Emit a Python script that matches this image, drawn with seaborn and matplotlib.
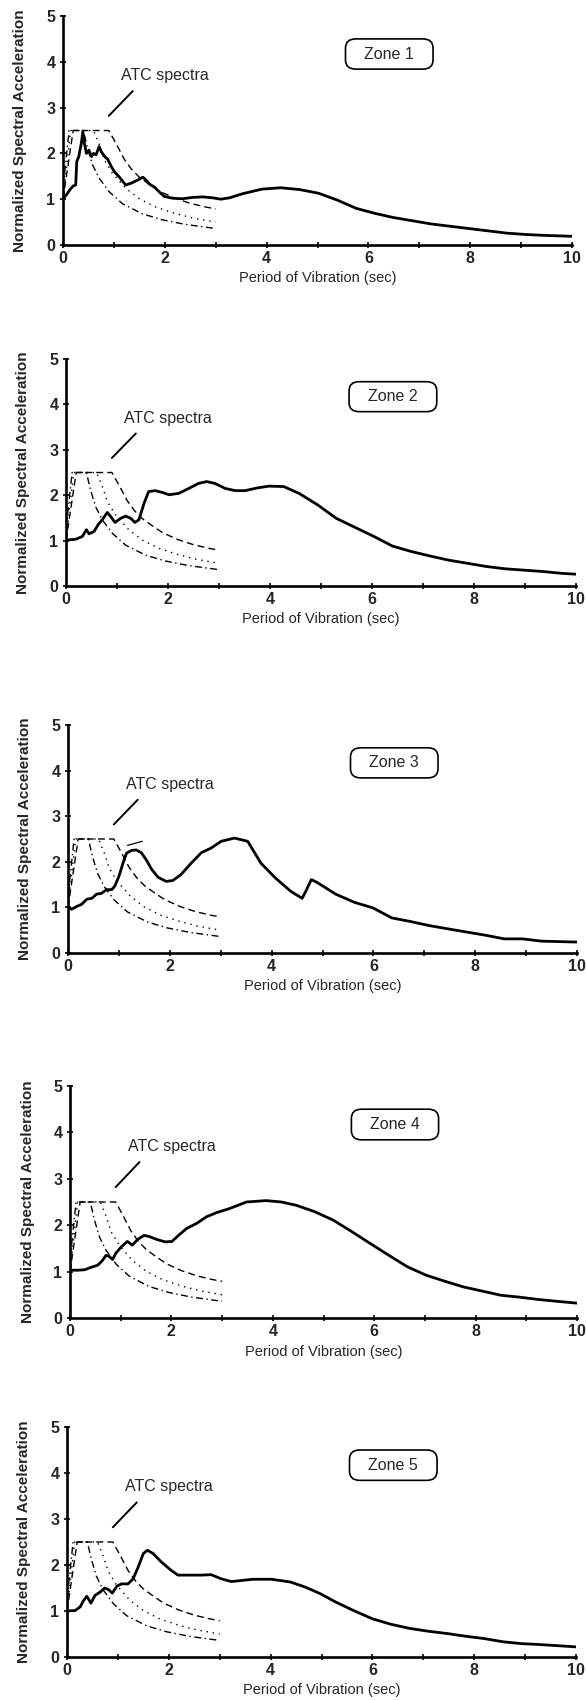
import matplotlib
matplotlib.use("Agg")
import matplotlib.pyplot as plt
from matplotlib.patches import FancyBboxPatch
import seaborn as sns

sns.set_style("ticks")
plt.rcParams['font.family'] = ['Liberation Sans', 'DejaVu Sans']

# ---------------- data ----------------
zones = ["Zone 1", "Zone 2", "Zone 3", "Zone 4", "Zone 5"]
x_label = "Period of Vibration (sec)"
y_label = "Normalized Spectral Acceleration"
atc_label = "ATC spectra"
x_ticks = [0, 2, 4, 6, 8, 10]
y_ticks = [0, 1, 2, 3, 4, 5]

# ATC normalized design spectra (shared by all panels)
atc_dash_x = [0, 0.2, 0.9, 1.05, 1.2, 1.35, 1.5, 1.7, 1.9, 2.2, 2.5, 2.8, 3.0]
atc_dash_y = [1.0, 2.5, 2.5, 2.2, 1.88, 1.65, 1.48, 1.32, 1.17, 1.02, 0.91, 0.83, 0.79]
atc_dot_x = [0, 0.15, 0.6, 0.71, 0.81, 0.97, 1.23, 1.5, 1.82, 2.2, 2.55, 2.8, 3.0]
atc_dot_y = [1.0, 2.5, 2.5, 2.2, 1.86, 1.57, 1.24, 1.01, 0.83, 0.69, 0.59, 0.54, 0.5]
atc_dashdot_x = [0, 0.12, 0.4, 0.48, 0.58, 0.71, 0.91, 1.17, 1.56, 1.95, 2.4, 2.8, 3.0]
atc_dashdot_y = [1.25, 2.5, 2.5, 2.12, 1.75, 1.46, 1.16, 0.9, 0.68, 0.55, 0.45, 0.39, 0.36]

# Zone 1 spectrum
z1_x = [0, 0.065, 0.13, 0.2, 0.25, 0.27, 0.31, 0.36, 0.39, 0.42, 0.46, 0.51, 0.56, 0.6,
        0.65, 0.71, 0.75, 0.82, 0.88, 0.95, 1.01, 1.11, 1.23, 1.34, 1.47, 1.57, 1.63,
        1.7, 1.8, 1.9, 1.99, 2.16, 2.35, 2.55, 2.75, 2.94, 3.1, 3.27, 3.53, 3.91, 4.28,
        4.65, 5.02, 5.39, 5.76, 6.13, 6.49, 6.86, 7.23, 7.6, 7.97, 8.34, 8.71, 9.08,
        9.45, 10.0]
z1_y = [1.02, 1.09, 1.2, 1.29, 1.31, 1.82, 1.93, 2.22, 2.47, 2.22, 2.0, 2.07, 1.93, 2.0,
        1.97, 2.15, 2.04, 1.93, 1.87, 1.71, 1.6, 1.48, 1.31, 1.35, 1.42, 1.48, 1.42,
        1.33, 1.26, 1.15, 1.06, 1.02, 1.01, 1.04, 1.05, 1.03, 1.0, 1.03, 1.12, 1.22, 1.25,
        1.21, 1.13, 0.98, 0.8, 0.69, 0.6, 0.53, 0.46, 0.41, 0.36, 0.31, 0.26, 0.23,
        0.21, 0.19]

# Zone 2 spectrum
z2_x = [0, 0.19, 0.32, 0.4, 0.45, 0.55, 0.63, 0.71, 0.81, 0.87, 0.96, 1.07, 1.17, 1.27,
        1.35, 1.43, 1.53, 1.62, 1.75, 1.89, 2.02, 2.21, 2.41, 2.6, 2.76, 2.92, 3.12,
        3.32, 3.51, 3.75, 3.98, 4.27, 4.57, 4.93, 5.3, 5.67, 6.04, 6.4, 6.77, 7.14, 7.5,
        7.87, 8.24, 8.6, 8.97, 9.34, 9.71, 10.0]
z2_y = [1.01, 1.03, 1.09, 1.24, 1.15, 1.2, 1.35, 1.46, 1.62, 1.54, 1.4, 1.49, 1.54, 1.49,
        1.4, 1.46, 1.82, 2.08, 2.1, 2.06, 2.01, 2.04, 2.15, 2.26, 2.3, 2.26, 2.15,
        2.1, 2.1, 2.16, 2.2, 2.19, 2.04, 1.79, 1.49, 1.29, 1.09, 0.88, 0.76, 0.66, 0.57,
        0.5, 0.43, 0.38, 0.35, 0.32, 0.28, 0.26]

# Zone 3 spectrum
z3_x = [0, 0.07, 0.17, 0.27, 0.37, 0.47, 0.56, 0.66, 0.76, 0.86, 0.92, 1.0, 1.08, 1.15,
        1.25, 1.34, 1.44, 1.54, 1.64, 1.77, 1.93, 2.06, 2.22, 2.42, 2.62, 2.81, 3.01,
        3.27, 3.53, 3.79, 4.08, 4.38, 4.6, 4.67, 4.78, 4.89, 5.26, 5.63, 5.99, 6.36,
        6.73, 7.1, 7.46, 7.83, 8.2, 8.57, 8.93, 9.3, 10.0]
z3_y = [1.02, 0.96, 1.02, 1.07, 1.18, 1.2, 1.29, 1.31, 1.39, 1.39, 1.47, 1.68, 1.97, 2.19,
        2.25, 2.26, 2.2, 2.04, 1.84, 1.66, 1.57, 1.59, 1.72, 1.97, 2.2, 2.3, 2.45,
        2.52, 2.45, 1.97, 1.64, 1.35, 1.2, 1.35, 1.61, 1.55, 1.29, 1.11, 0.99, 0.77,
        0.69, 0.6, 0.53, 0.46, 0.39, 0.31, 0.31, 0.26, 0.24]
z3_extra_x = [1.17, 1.46]
z3_extra_y = [2.36, 2.45]

# Zone 4 spectrum
z4_x = [0, 0.15, 0.29, 0.41, 0.55, 0.64, 0.71, 0.77, 0.84, 0.9, 1.0, 1.13, 1.23, 1.33,
        1.46, 1.55, 1.72, 1.88, 2.01, 2.14, 2.3, 2.5, 2.69, 2.89, 3.15, 3.48, 3.87,
        4.17, 4.46, 4.83, 5.19, 5.56, 5.93, 6.29, 6.66, 7.03, 7.4, 7.76, 8.13, 8.5,
        8.86, 9.23, 9.6, 10.0]
z4_y = [1.03, 1.03, 1.04, 1.09, 1.14, 1.24, 1.35, 1.33, 1.26, 1.39, 1.52, 1.65, 1.57, 1.69,
        1.78, 1.76, 1.69, 1.64, 1.65, 1.78, 1.93, 2.04, 2.18, 2.27, 2.36, 2.5, 2.53,
        2.5, 2.43, 2.29, 2.11, 1.86, 1.6, 1.35, 1.1, 0.92, 0.79, 0.67, 0.58, 0.49,
        0.45, 0.4, 0.36, 0.32]

# Zone 5 spectrum
z5_x = [0, 0.16, 0.26, 0.32, 0.39, 0.47, 0.55, 0.65, 0.74, 0.81, 0.89, 0.98, 1.07, 1.2,
        1.3, 1.4, 1.5, 1.58, 1.69, 1.85, 2.05, 2.18, 2.38, 2.64, 2.83, 3.03, 3.23,
        3.65, 4.02, 4.39, 4.68, 4.97, 5.27, 5.63, 6.0, 6.37, 6.74, 7.1, 7.47, 7.84,
        8.2, 8.57, 8.94, 9.3, 10.0]
z5_y = [1.0, 1.01, 1.09, 1.22, 1.32, 1.17, 1.34, 1.41, 1.5, 1.47, 1.39, 1.54, 1.59, 1.59,
        1.7, 1.96, 2.25, 2.32, 2.25, 2.07, 1.88, 1.78, 1.78, 1.78, 1.79, 1.7, 1.64,
        1.69, 1.69, 1.63, 1.52, 1.38, 1.2, 1.01, 0.83, 0.71, 0.62, 0.56, 0.51, 0.45,
        0.4, 0.33, 0.29, 0.27, 0.22]

spectra_x = [z1_x, z2_x, z3_x, z4_x, z5_x]
spectra_y = [z1_y, z2_y, z3_y, z4_y, z5_y]

# ---------------- layout (pixels) ----------------
W, H = 586, 1700
panel_px = [  # left, right, bottom(y=0), top(y=5)
    (63, 572, 245, 16),
    (66, 576, 586, 359),
    (68, 577, 953, 725),
    (70, 577, 1318, 1086),
    (67, 576, 1657, 1427),
]

fig = plt.figure(figsize=(W / 100, H / 100), dpi=100)

for i, (l, r, b, t) in enumerate(panel_px):
    ax = fig.add_axes([l / W, 1 - b / H, (r - l) / W, (b - t) / H])
    ax.set_xlim(0, 10)
    ax.set_ylim(0, 5)

    # ATC spectra
    sns.lineplot(x=atc_dash_x, y=atc_dash_y, ax=ax, color="black", lw=1.0,
                 linestyle=(0, (5, 3)), estimator=None, sort=False)
    sns.lineplot(x=atc_dot_x, y=atc_dot_y, ax=ax, color="black", lw=1.0,
                 linestyle=(0, (1, 3.5)), estimator=None, sort=False)
    sns.lineplot(x=atc_dashdot_x, y=atc_dashdot_y, ax=ax, color="black", lw=1.0,
                 linestyle=(0, (5, 2.5, 1, 2.5)), estimator=None, sort=False)
    if i == 2:
        sns.lineplot(x=z3_extra_x, y=z3_extra_y, ax=ax, color="black", lw=0.9,
                     estimator=None, sort=False)

    # recorded spectrum
    sns.lineplot(x=spectra_x[i], y=spectra_y[i], ax=ax, color="black", lw=2.0,
                 estimator=None, sort=False)

    # annotation
    ax.plot([0.9, 1.37], [2.82, 3.36], color="black", lw=1.4)
    ax.text(2.0, 3.7, atc_label, ha="center", va="center", fontsize=11.5)
    box = FancyBboxPatch((5.55, 3.84), 1.72, 0.66,
                         boxstyle="round,pad=0,rounding_size=0.2",
                         fc="white", ec="black", lw=1.2, transform=ax.transData)
    ax.add_patch(box)
    ax.text(6.41, 4.17, zones[i], ha="center", va="center", fontsize=11.5)

    # axes styling
    sns.despine(ax=ax)
    for s in ("left", "bottom"):
        ax.spines[s].set_linewidth(1.9)
        ax.spines[s].set_color("black")
    ax.set_xticks(x_ticks)
    ax.set_xticks([1, 3, 5, 7, 9], minor=True)
    ax.set_yticks(y_ticks)
    ax.set_xticklabels([str(v) for v in x_ticks], fontsize=11.5, fontweight="bold")
    ax.set_yticklabels([str(v) for v in y_ticks], fontsize=11.5, fontweight="bold")
    ax.tick_params(axis="both", which="both", direction="inout", length=5,
                   width=1.2, color="black")
    ax.tick_params(axis="x", which="major", pad=2)
    ax.tick_params(axis="y", which="major", pad=3)
    ax.set_xlabel(x_label, fontsize=10.5)
    ax.set_ylabel(y_label, fontsize=11, fontweight="bold")
    ax.xaxis.set_label_coords(0.5, -0.115)
    ax.yaxis.set_label_coords(-0.07, 0.5)
    ax.set_facecolor("white")

fig.savefig("out.png", dpi=100, facecolor="white")
